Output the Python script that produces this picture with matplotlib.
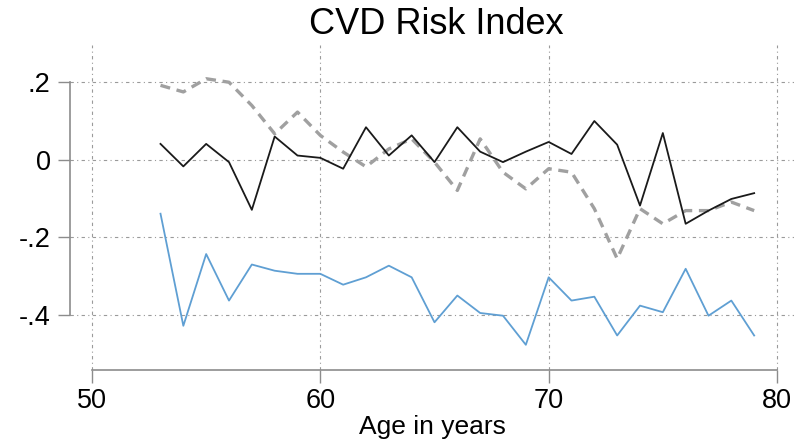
import numpy as np
import matplotlib
matplotlib.use("Agg")
import matplotlib.pyplot as plt

# --------------------------------------------------------------------
# data
ages = list(range(53, 80))

black = [0.041, -0.017, 0.041, -0.006, -0.129, 0.060, 0.011, 0.005, -0.023,
         0.084, 0.011, 0.063, -0.006, 0.084, 0.021, -0.006, 0.021, 0.046,
         0.015, 0.100, 0.039, -0.118, 0.069, -0.165, -0.131, -0.101, -0.086]

gray = [0.192, 0.175, 0.209, 0.200, 0.140, 0.067, 0.123, 0.063, 0.020,
        -0.018, 0.028, 0.054, -0.006, -0.079, 0.054, -0.032, -0.075, -0.023,
        -0.032, -0.126, -0.255, -0.126, -0.165, -0.131, -0.131, -0.109, -0.131]

blue = [-0.139, -0.428, -0.243, -0.363, -0.270, -0.286, -0.294, -0.294, -0.322,
        -0.303, -0.273, -0.303, -0.419, -0.350, -0.395, -0.402, -0.477, -0.303,
        -0.363, -0.353, -0.453, -0.376, -0.393, -0.281, -0.402, -0.363, -0.453]

xticks = [50, 60, 70, 80]
yticks = [0.2, 0, -0.2, -0.4]
ytick_labels = [".2", "0", "-.2", "-.4"]

# --------------------------------------------------------------------
# figure
plt.rcParams['font.family'] = ['Liberation Sans', 'DejaVu Sans']

fig = plt.figure(figsize=(7.94, 4.46), dpi=100)
ax = fig.add_axes([70 / 794, 1 - 370 / 446, 1 - 70 / 794, (370 - 45) / 446])

grid_style = dict(color="#9a9a9a", linewidth=0.8, linestyle=(0, (3, 3, 1, 3)))
for yv in yticks:
    ax.axhline(yv, zorder=1, **grid_style)
for xv in xticks:
    ax.axvline(xv, zorder=1, **grid_style)

ax.plot(ages, gray, color="#a0a0a0", linewidth=2.4, linestyle=(0, (3, 2)), zorder=2)
ax.plot(ages, black, color="#1a1a1a", linewidth=1.3, zorder=3)
ax.plot(ages, blue, color="#5f9fd3", linewidth=1.3, zorder=3)

ax.set_xlim(50 - 22 / 22.83, 80 + 17 / 22.83)
ax.set_ylim(-0.542, 0.296)

ax.set_xticks(xticks)
ax.set_xticklabels([str(v) for v in xticks], fontsize=19.5)
ax.set_yticks(yticks)
ax.set_yticklabels(ytick_labels, fontsize=19.5)

for s in ["top", "right"]:
    ax.spines[s].set_visible(False)
ax.spines["left"].set_bounds(-0.4, 0.2)
ax.spines["bottom"].set_bounds(50, 80)
ax.spines["left"].set_color("#8c8c8c")
ax.spines["bottom"].set_color("#8c8c8c")
ax.spines["left"].set_linewidth(1.2)
ax.spines["bottom"].set_linewidth(1.2)
ax.tick_params(axis="both", length=9, width=1, color="#8c8c8c")
ax.tick_params(axis="x", pad=4)
ax.tick_params(axis="y", pad=5)

ax.set_xlabel("Age in years", fontsize=19, labelpad=1)
fig.text(0.549, 0.945, "CVD Risk Index", ha="center", va="center", fontsize=26)

fig.savefig("out.png", dpi=100)
